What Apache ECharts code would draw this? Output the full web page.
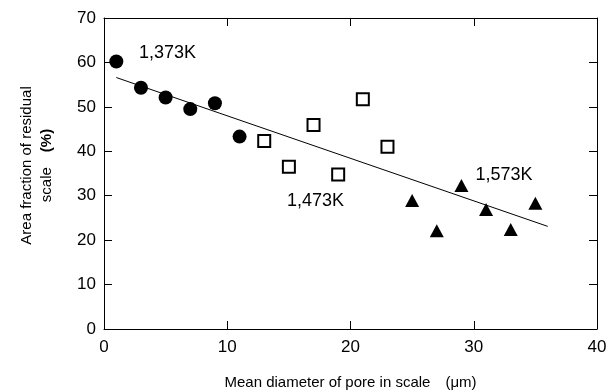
<!DOCTYPE html>
<html>
<head>
<meta charset="utf-8">
<script src="https://cdn.jsdelivr.net/npm/echarts@6/dist/echarts.min.js"></script>
<style>html,body{margin:0;padding:0;background:#fff}#c{width:608px;height:392px}</style>
</head>
<body>
<div id="c"></div>
<script>
const circles1373 = [[1,60.2],[3,54.3],[5,52.1],[7,49.5],[9,50.8],[11,43.3]];
const squares1473 = [[13,42.3],[15,36.5],[17,45.9],[19,34.8],[21,51.7],[23,41.0]];
const triangles1573 = [[25,28.9],[27,22.1],[29,32.3],[31,26.9],[33,22.4],[35,28.3]];
const fitLine = [[1,56.6],[36,23.1]];
const tempLabels = [
  {text:'1,373K', at:[2.8,62.1]},
  {text:'1,473K', at:[14.8,28.7]},
  {text:'1,573K', at:[30.1,34.7]}
];
const xTicks = [0,10,20,30,40];
const yTicks = [0,10,20,30,40,50,60,70];

const FONT = 'Liberation Sans, Arial, sans-serif';
const chart = echarts.init(document.getElementById('c'), null, {renderer:'canvas'});
const axisCommon = {
  axisLine:{show:true, onZero:false, lineStyle:{color:'#000', width:1}},
  axisTick:{show:true, inside:true, length:8, lineStyle:{color:'#000'}},
  splitLine:{show:false}
};
const labelStyle = {show:true, position:'right', distance:0, formatter:'{t|{b}}',
  rich:{t:{color:'#000', fontSize:18, fontFamily:FONT}}};
chart.setOption({
  animation:false,
  backgroundColor:'#fff',
  grid:{left:104, right:11, top:18, bottom:63, containLabel:false, outerBoundsMode:'none'},
  xAxis:[
    Object.assign({type:'value', min:xTicks[0], max:xTicks[xTicks.length-1], interval:10, position:'bottom',
      axisLabel:{color:'#000', fontSize:17, fontFamily:FONT, margin:10},
      name:'Mean diameter of pore in scale\u3000(μm)', nameLocation:'middle', nameGap:46,
      nameTextStyle:{color:'#000', fontSize:15, fontFamily:FONT}}, axisCommon),
    Object.assign({type:'value', min:0, max:40, interval:10, position:'top', axisLabel:{show:false}}, axisCommon)
  ],
  yAxis:[
    Object.assign({type:'value', min:yTicks[0], max:yTicks[yTicks.length-1], interval:10, position:'left',
      axisLabel:{color:'#000', fontSize:17, fontFamily:FONT, margin:8},
      name:'{n|Area fraction of residual}\n{n|scale\u3000}{b|(%)}', nameLocation:'middle', nameGap:47, nameRotate:90,
      nameTextStyle:{color:'#000', fontSize:15, fontFamily:FONT, lineHeight:20, align:'center', padding:[0,0,0,16],
        rich:{n:{fontSize:15, fontFamily:FONT, color:'#000', lineHeight:20}, b:{fontSize:15, fontFamily:FONT, color:'#000', fontWeight:'bold', lineHeight:20}}}}, axisCommon),
    Object.assign({type:'value', min:0, max:70, interval:10, position:'right', axisLabel:{show:false}}, axisCommon)
  ],
  series:[
    {type:'line', data:fitLine, symbol:'none', lineStyle:{color:'#000', width:1}, z:1},
    {type:'scatter', data:circles1373, symbol:'circle', symbolSize:14, itemStyle:{color:'#000', opacity:1}, z:3},
    {type:'scatter', data:squares1473, symbol:'rect', symbolSize:12, itemStyle:{color:'#fff', borderColor:'#000', borderWidth:2, opacity:1}, z:3},
    {type:'scatter', data:triangles1573, symbol:'triangle', symbolSize:[14,13], itemStyle:{color:'#000', opacity:1}, z:3},
    {type:'scatter', data:tempLabels.map(d=>({value:d.at, name:d.text, label:labelStyle})), symbol:'circle', symbolSize:1,
      itemStyle:{color:'rgba(255,255,255,0)', opacity:1}, label:labelStyle, z:4}
  ]
});
</script>
</body>
</html>
